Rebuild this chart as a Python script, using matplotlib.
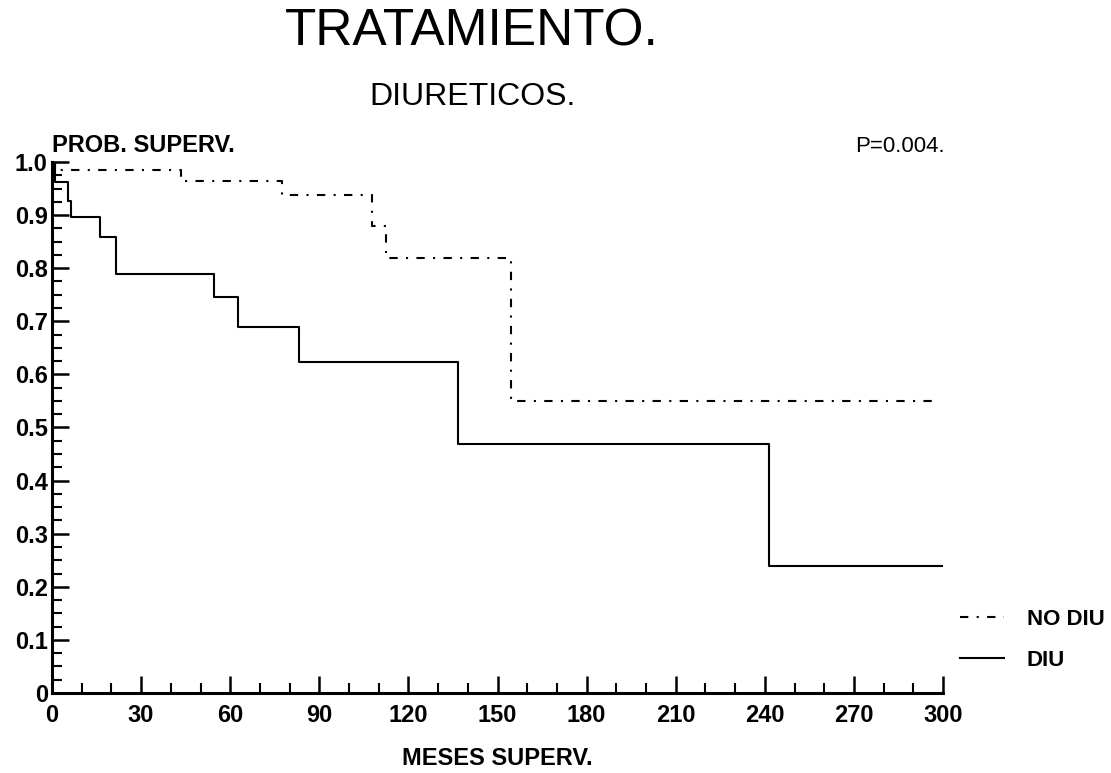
import numpy as np
import matplotlib
matplotlib.use("Agg")
import matplotlib.pyplot as plt
from matplotlib.ticker import MultipleLocator

# Kaplan-Meier steps (months, survival probability)
diu_time = [0, 1, 5.3, 6.3, 16.1, 21.7, 54.5, 62.6, 83.3, 136.8, 241.5, 300]
diu_surv = [1.0, 0.963, 0.927, 0.896, 0.859, 0.790, 0.746, 0.690, 0.623, 0.468, 0.240, 0.240]

nodiu_time = [0, 1, 43.6, 77.5, 107.6, 112.5, 154.7, 297]
nodiu_surv = [1.0, 0.985, 0.964, 0.937, 0.880, 0.819, 0.550, 0.550]

x_ticks = [0, 30, 60, 90, 120, 150, 180, 210, 240, 270, 300]
y_ticks = [0, 0.1, 0.2, 0.3, 0.4, 0.5, 0.6, 0.7, 0.8, 0.9, 1.0]
y_labels = ["0", "0.1", "0.2", "0.3", "0.4", "0.5", "0.6", "0.7", "0.8", "0.9", "1.0"]

title = "TRATAMIENTO."
subtitle = "DIURETICOS."
p_text = "P=0.004."

FONT = ["Liberation Sans", "DejaVu Sans"]
plt.rcParams["font.family"] = FONT

fig = plt.figure(figsize=(11.11, 7.73), dpi=100)
ax = fig.add_axes([52 / 1111, 80 / 773, 891 / 1111, 531 / 773])

ax.step(nodiu_time, nodiu_surv, where="post", color="black", lw=1.5,
        dashes=(4, 4, 1, 4), label="NO DIU")
ax.step(diu_time, diu_surv, where="post", color="black", lw=1.5, label="DIU")

ax.set_xlim(0, 300)
ax.set_ylim(0, 1.0)
for s in ["top", "right"]:
    ax.spines[s].set_visible(False)
for s in ["left", "bottom"]:
    ax.spines[s].set_linewidth(2.2)

ax.set_xticks(x_ticks)
ax.set_yticks(y_ticks)
ax.set_yticklabels(y_labels)
ax.xaxis.set_minor_locator(MultipleLocator(10))
ax.yaxis.set_minor_locator(MultipleLocator(0.025))
ax.tick_params(which="major", direction="in", length=12, width=1.8,
               labelsize=17, pad=8)
ax.tick_params(which="minor", direction="in", length=7, width=1.5)
ax.tick_params(axis="y", pad=3)
for lab in ax.get_xticklabels() + ax.get_yticklabels():
    lab.set_fontweight("bold")

ax.set_xlabel("MESES SUPERV.", fontsize=17, fontweight="bold", labelpad=14)

fig.text(472 / 1111, 1 - 32 / 773, title, ha="center", va="center",
         fontsize=37)
fig.text(472 / 1111, 1 - 97 / 773, subtitle, ha="center", va="center",
         fontsize=23)
fig.text(52 / 1111, 1 - 146 / 773, "PROB. SUPERV.", ha="left", va="center",
         fontsize=17, fontweight="bold")
fig.text(945 / 1111, 1 - 146 / 773, p_text, ha="right", va="center",
         fontsize=16)

ax.legend(loc="lower left", bbox_to_anchor=(940 / 1111, 82 / 773),
          bbox_transform=fig.transFigure, frameon=False, handlelength=2.0,
          handletextpad=1.0, prop={"size": 16, "weight": "bold"},
          labelspacing=0.9)

fig.savefig("out.png", dpi=100)
